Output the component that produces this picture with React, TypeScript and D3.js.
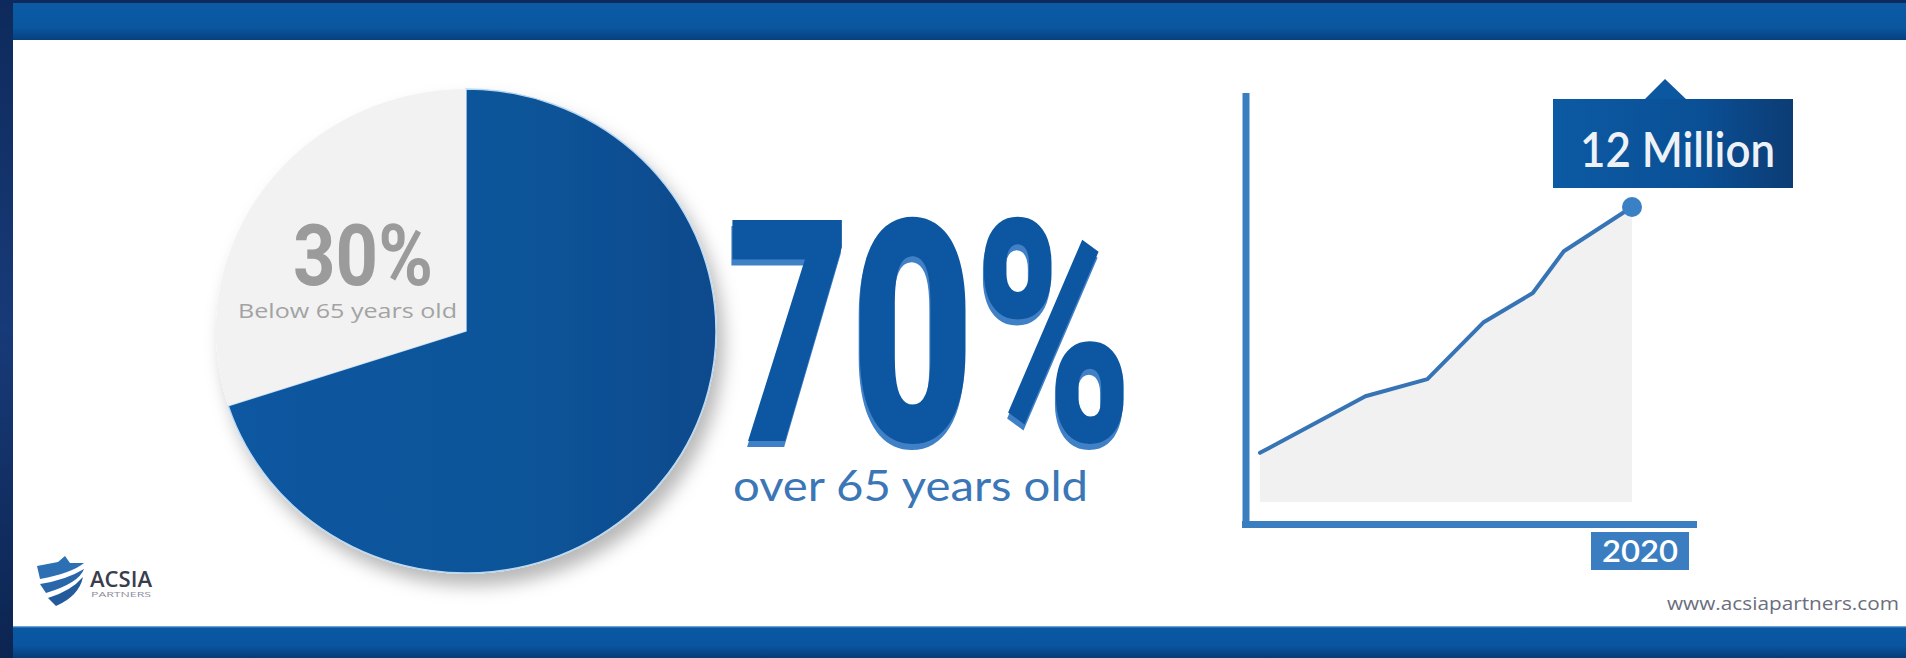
import React from "react";
import * as d3 from "d3";

// ---------- data ----------
const pieCategories = ["over 65 years old", "Below 65 years old"];
const pieValues = [70, 30];
const pieValueLabels = ["70%", "30%"];
const years = [1990, 1998.5, 2003.5, 2008, 2012, 2014.5, 2020];
const populationMillions = [2.0, 4.3, 5.0, 7.3, 8.5, 10.2, 12];
const xTickLabels = ["2020"];
const calloutLabel = "12 Million";
const brandName = "ACSIA";
const brandSub = "PARTNERS";
const website = "www.acsiapartners.com";

const W = 1906;
const H = 658;

export default function App() {
  const pieData = d3.pie<number>().sort(null).value((d) => d)(pieValues);
  const arc = d3.arc<d3.PieArcDatum<number>>().innerRadius(0).outerRadius(250);

  const x = d3.scaleLinear().domain([1990, 2020]).range([1260, 1632]);
  const y = d3.scaleLinear().domain([0, 12]).range([502, 207]);
  const pts = years.map((yr, i) => [yr, populationMillions[i]] as [number, number]);
  const line = d3.line<[number, number]>().x((d) => x(d[0])).y((d) => y(d[1]));
  const area = d3
    .area<[number, number]>()
    .x((d) => x(d[0]))
    .y0(y(0))
    .y1((d) => y(d[1]));

  const last = pts[pts.length - 1];
  const lx = x(last[0]);
  const ly = y(last[1]);
  const axisColor = "#3b7ec0";

  return (
    <div style={{ position: "absolute", left: 0, top: 0 }}>
      <svg width={W} height={H} style={{ display: "block" }}>
        <defs>
          <linearGradient id="navy" x1="0" y1="0" x2="0" y2="1">
            <stop offset="0" stopColor="#0e2a5c" />
            <stop offset="0.5" stopColor="#173a78" />
            <stop offset="1" stopColor="#0c2450" />
          </linearGradient>
          <linearGradient id="topBand" x1="0" y1="0" x2="0" y2="1">
            <stop offset="0" stopColor="#0b5aa3" />
            <stop offset="0.65" stopColor="#0a57a0" />
            <stop offset="1" stopColor="#06407e" />
          </linearGradient>
          <linearGradient id="botBand" x1="0" y1="0" x2="0" y2="1">
            <stop offset="0" stopColor="#8fc0ea" />
            <stop offset="0.06" stopColor="#0a58a2" />
            <stop offset="0.6" stopColor="#0a55a0" />
            <stop offset="1" stopColor="#063c78" />
          </linearGradient>
          <linearGradient id="pieBlue" x1="0" y1="0" x2="1" y2="0">
            <stop offset="0" stopColor="#0b58a0" />
            <stop offset="0.6" stopColor="#0a5499" />
            <stop offset="1" stopColor="#084a8c" />
          </linearGradient>
          <linearGradient id="callout" x1="0" y1="0" x2="1" y2="0">
            <stop offset="0" stopColor="#0c5aa3" />
            <stop offset="0.6" stopColor="#0a5096" />
            <stop offset="1" stopColor="#0c3c74" />
          </linearGradient>
          <filter id="pieShadow" x="-20%" y="-20%" width="150%" height="150%">
            <feGaussianBlur in="SourceAlpha" stdDeviation="9" />
            <feOffset dx="7" dy="12" result="off" />
            <feFlood floodColor="#000" floodOpacity="0.28" />
            <feComposite in2="off" operator="in" />
            <feMerge>
              <feMergeNode />
              <feMergeNode in="SourceGraphic" />
            </feMerge>
          </filter>
          <filter id="extrude" x="-5%" y="-5%" width="110%" height="120%">
            <feOffset in="SourceAlpha" dx="-1" dy="6" result="off" />
            <feFlood floodColor="#3f80c6" />
            <feComposite in2="off" operator="in" />
            <feMerge>
              <feMergeNode />
              <feMergeNode in="SourceGraphic" />
            </feMerge>
          </filter>
        </defs>

        {/* frame */}
        <rect x={0} y={0} width={W} height={H} fill="url(#navy)" />
        <rect x={13} y={3} width={W - 13} height={37} fill="url(#topBand)" />
        <rect x={13} y={40} width={W - 13} height={586} fill="#ffffff" />
        <rect x={13} y={626} width={W - 13} height={32} fill="url(#botBand)" />

        {/* pie */}
        <g transform="translate(466,331) scale(1,0.968)" filter="url(#pieShadow)">
          {pieData.map((d, i) => (
            <path
              key={pieCategories[i]}
              d={arc(d) || ""}
              fill={i === 0 ? "url(#pieBlue)" : "#f2f2f2"}
              stroke={i === 0 ? "#b9d8f3" : "none"}
              strokeWidth={i === 0 ? 1.5 : 0}
            />
          ))}
        </g>
        <text
          x={293}
          y={285}
          fontFamily="Roboto, 'DejaVu Sans', sans-serif"
          fontWeight={700}
          fontSize={86}
          fill="#9b9b9b"
          textLength={140}
          lengthAdjust="spacingAndGlyphs"
        >
          {pieValueLabels[1]}
        </text>
        <text
          x={238}
          y={318}
          fontFamily="'Open Sans', sans-serif"
          fontSize={20}
          fill="#a3a3a3"
          textLength={219}
          lengthAdjust="spacingAndGlyphs"
        >
          {pieCategories[1]}
        </text>

        {/* big 70% with extrusion */}
        <text
          x={727}
          y={441}
          fontFamily="Roboto, 'DejaVu Sans', sans-serif"
          fontWeight={900}
          fontSize={311}
          fill="#0b57a1"
          textLength={406}
          lengthAdjust="spacingAndGlyphs"
          filter="url(#extrude)"
        >
          {pieValueLabels[0]}
        </text>
        <text
          x={733}
          y={501}
          fontFamily="Lato, 'Open Sans', sans-serif"
          fontSize={42}
          fill="#3b76b6"
          textLength={355}
          lengthAdjust="spacingAndGlyphs"
        >
          {pieCategories[0]}
        </text>

        {/* line chart */}
        <path d={area(pts) || ""} fill="#f1f1f1" />
        <line x1={1246} y1={93} x2={1246} y2={528} stroke={axisColor} strokeWidth={7} />
        <line x1={1242} y1={524.5} x2={1697} y2={524.5} stroke={axisColor} strokeWidth={7} />
        <path
          d={line(pts) || ""}
          fill="none"
          stroke="#3674b5"
          strokeWidth={4}
          strokeLinejoin="round"
          strokeLinecap="round"
        />
        <circle cx={lx} cy={ly} r={10} fill="#3a80c5" />

        {/* callout */}
        <path d="M1644,100 L1665,79 L1687,100 Z" fill="#0b57a0" />
        <rect x={1553} y={99} width={240} height={89} fill="url(#callout)" />
        <text
          x={1580}
          y={167}
          fontFamily="Lato, 'Open Sans', sans-serif"
          fontWeight={600}
          fontSize={48}
          fill="#eef2f6"
          textLength={195}
          lengthAdjust="spacingAndGlyphs"
        >
          {calloutLabel}
        </text>

        {/* x tick label */}
        {xTickLabels.map((t) => (
          <g key={t}>
            <rect x={x(+t) - 41} y={532} width={98} height={38} fill="#3a7ec1" />
            <text
              x={x(+t) + 8}
              y={562}
              textAnchor="middle"
              fontFamily="Lato, 'Open Sans', sans-serif"
              fontWeight={600}
              fontSize={30}
              fill="#ffffff"
              textLength={76}
              lengthAdjust="spacingAndGlyphs"
            >
              {t}
            </text>
          </g>
        ))}

        {/* logo */}
        <g>
          <path d="M37,566 L58,562 L65,556 L70,563 L84,563 Q72,573 40,579 Z" fill="#2d6fb3" />
          <path d="M40,584 Q66,580 84,569 Q79,583 46,593 Z" fill="#2966aa" />
          <path d="M48,598 Q71,591 83,577 Q79,596 56,606 Z" fill="#225a9b" />
          <text
            x={90}
            y={587}
            fontFamily="'Open Sans', sans-serif"
            fontWeight={600}
            fontSize={22}
            fill="#3a3d4e"
            textLength={62}
            lengthAdjust="spacingAndGlyphs"
          >
            {brandName}
          </text>
          <text
            x={91}
            y={597}
            fontFamily="'Open Sans', sans-serif"
            fontSize={8}
            fill="#8a8d9c"
            textLength={60}
            lengthAdjust="spacingAndGlyphs"
          >
            {brandSub}
          </text>
        </g>

        <text
          x={1899}
          y={610}
          textAnchor="end"
          fontFamily="'Open Sans', sans-serif"
          fontSize={19}
          fill="#6b6e7e"
          textLength={232}
          lengthAdjust="spacingAndGlyphs"
        >
          {website}
        </text>
      </svg>
    </div>
  );
}
